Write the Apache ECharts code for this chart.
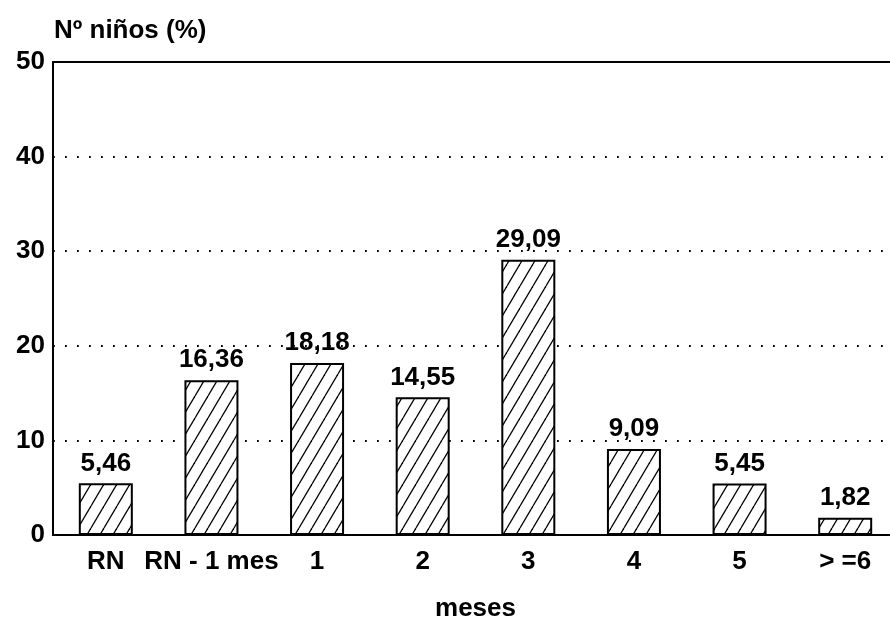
<!DOCTYPE html>
<html>
<head>
<meta charset="utf-8">
<script src="https://cdn.jsdelivr.net/npm/echarts@6/dist/echarts.min.js"></script>
<style>
  html, body { margin: 0; padding: 0; background: #fff; overflow: hidden; }
  #chart { width: 898px; height: 620px; }
</style>
</head>
<body>
<div id="chart"></div>
<script>
// Edad de introducción (meses) y porcentaje de niños
const categories = ['RN', 'RN - 1 mes', '1', '2', '3', '4', '5', '> =6'];
const percentValues = [5.46, 16.36, 18.18, 14.55, 29.09, 9.09, 5.45, 1.82];
const yTicks = [0, 10, 20, 30, 40, 50];

const FONT = '"Liberation Sans", Arial, sans-serif';
const FONT_SIZE = 26;
const FONT_WEIGHT = 'bold';

// Diagonal hatching tile used to fill the bars
function hatchPattern() {
  const w = 13, h = 22;
  const c = document.createElement('canvas');
  c.width = w; c.height = h;
  const ctx = c.getContext('2d');
  ctx.fillStyle = '#fff';
  ctx.fillRect(0, 0, w, h);
  ctx.strokeStyle = '#000';
  ctx.lineWidth = 1.3;
  for (let k = -1; k <= 1; k++) {
    ctx.beginPath();
    ctx.moveTo(k * w, h);
    ctx.lineTo((k + 1) * w, 0);
    ctx.stroke();
  }
  return c;
}

const textStyle = { fontFamily: FONT, fontSize: FONT_SIZE, fontWeight: FONT_WEIGHT, color: '#000' };

const chart = echarts.init(document.getElementById('chart'), null, { renderer: 'canvas' });

chart.setOption({
  animation: false,
  backgroundColor: '#fff',
  textStyle: { fontFamily: FONT, color: '#000' },
  title: {
    text: 'Nº niños (%)',
    left: 49,
    top: 13,
    textStyle: textStyle
  },
  grid: { left: 53, right: 0, top: 62, bottom: 85, outerBoundsMode: 'none', containLabel: false },
  xAxis: [
    {
      type: 'category',
      data: categories,
      position: 'bottom',
      name: 'meses',
      nameLocation: 'middle',
      nameGap: 61,
      nameTextStyle: textStyle,
      axisLine: { show: true, lineStyle: { color: '#000', width: 2 } },
      axisTick: { show: false },
      axisLabel: Object.assign({ margin: 14, interval: 0 }, textStyle)
    },
    {
      type: 'category',
      data: categories,
      position: 'top',
      axisLine: { show: true, lineStyle: { color: '#000', width: 2 } },
      axisTick: { show: false },
      axisLabel: { show: false }
    }
  ],
  yAxis: {
    type: 'value',
    min: yTicks[0],
    max: yTicks[yTicks.length - 1],
    interval: yTicks[1] - yTicks[0],
    axisLine: { show: true, lineStyle: { color: '#000', width: 2 } },
    axisTick: { show: false },
    axisLabel: Object.assign({ margin: 8, padding: [7, 0, 0, 0] }, textStyle),
    splitLine: {
      show: true,
      lineStyle: { color: '#000', width: 1.8, type: [1.8, 10.2] }
    }
  },
  series: [
    {
      type: 'bar',
      data: percentValues,
      barWidth: 54,
      itemStyle: {
        color: { image: hatchPattern(), repeat: 'repeat' },
        borderColor: '#000',
        borderWidth: 2
      },
      label: Object.assign({
        show: true,
        position: 'top',
        distance: 7,
        formatter: p => p.value.toFixed(2).replace('.', ',')
      }, textStyle)
    }
  ]
});
</script>
</body>
</html>
